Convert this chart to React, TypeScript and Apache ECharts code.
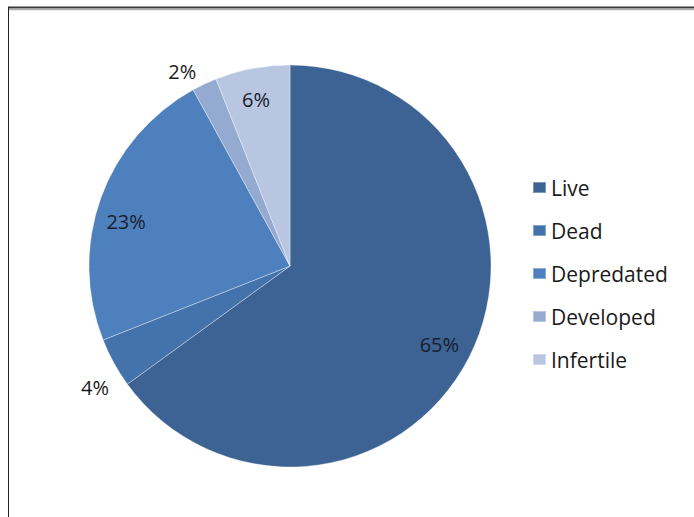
import React, { useEffect, useRef } from "react";
import * as echarts from "echarts";

const categories = ["Live", "Dead", "Depredated", "Developed", "Infertile"];
const values = [65, 4, 23, 2, 6];
const colors = ["#3c6394", "#4472aa", "#4e80bd", "#94aad1", "#b9c6e1"];
const insideLabels = [true, false, true, false, true];
const outsideLabels = [false, true, false, true, false];
const labelOffsets: [number, number][] = [[-3, 1], [4, 12], [-3, 13], [-11, 11], [-2, 1]];

const FONT = "'Open Sans', 'Noto Sans', sans-serif";

export default function App() {
  const ref = useRef<HTMLDivElement>(null);
  useEffect(() => {
    document.body.style.margin = "0";
    const chart = echarts.init(ref.current!, null, { renderer: "svg" });
    const center = [290, 266];
    const mainData = categories.map((name, i) => ({
      name,
      value: values[i],
      itemStyle: { color: colors[i] },
    }));
    const labelData = (flags: boolean[]) =>
      categories.map((name, i) => ({
        name,
        value: values[i],
        itemStyle: { color: "rgba(0,0,0,0)" },
        label: { show: flags[i], offset: labelOffsets[i] },
      }));
    chart.setOption({
      animation: false,
      backgroundColor: "#ffffff",
      color: colors,
      graphic: [
        { type: "line", shape: { x1: 8, y1: 7.5, x2: 694, y2: 7.5 }, style: { stroke: "#3a3a3a", lineWidth: 2 } },
        { type: "line", shape: { x1: 8, y1: 9.5, x2: 694, y2: 9.5 }, style: { stroke: "#b0b0b0", lineWidth: 1.5 } },
        { type: "line", shape: { x1: 8.5, y1: 7, x2: 8.5, y2: 517 }, style: { stroke: "#222222", lineWidth: 1 } },
      ],
      legend: {
        orient: "vertical",
        left: 527,
        top: 172,
        icon: "rect",
        itemWidth: 13,
        itemHeight: 11,
        itemGap: 22,
        data: categories,
        selectedMode: false,
        textStyle: { fontFamily: FONT, fontSize: 21, color: "#1a1a1a", lineHeight: 21 },
      },
      series: [
        {
          type: "pie",
          center,
          radius: [0, 201],
          startAngle: 90,
          clockwise: true,
          silent: true,
          label: { show: false },
          labelLine: { show: false },
          itemStyle: { borderColor: "rgba(255,255,255,0.35)", borderWidth: 1 },
          data: mainData,
        },
        {
          type: "pie",
          center,
          radius: [160, 176],
          startAngle: 90,
          silent: true,
          legendHoverLink: false,
          label: {
            position: "inside",
            formatter: "{d}%",
            fontFamily: FONT,
            fontSize: 20,
            color: "#17202e",
          },
          labelLine: { show: false },
          data: labelData(insideLabels),
        },
        {
          type: "pie",
          center,
          radius: [212, 236],
          startAngle: 90,
          silent: true,
          legendHoverLink: false,
          label: {
            position: "inside",
            formatter: "{d}%",
            fontFamily: FONT,
            fontSize: 20,
            color: "#1a1a1a",
          },
          labelLine: { show: false },
          data: labelData(outsideLabels),
        },
      ],
    });
    return () => chart.dispose();
  }, []);
  return (
    <div
      ref={ref}
      style={{ position: "absolute", left: 0, top: 0, width: 694, height: 517 }}
    />
  );
}
